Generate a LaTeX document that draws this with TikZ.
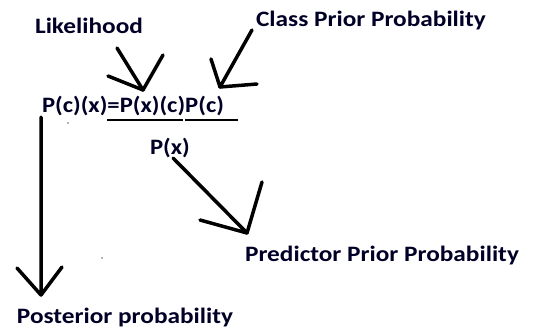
\documentclass[tikz,border=0pt]{standalone}
\usepackage{fontspec}
\setmainfont{Carlito}
\begin{document}
\begin{tikzpicture}[x=1pt,y=-1pt,
  lbl/.style={font=\bfseries\fontsize{22}{25}\selectfont, inner sep=0pt, text=black!85!blue},
  stroke/.style={line width=3.5pt, line cap=round, line join=round},
  bar/.style={line width=2.2pt}]
\useasboundingbox (0,0) rectangle (538,333);
\node[lbl] (lik) at (89,26) {\scalebox{1.15}[1]{Likelihood}};
\node[lbl] (cls) at (371,21) {\scalebox{1.15}[1]{Class Prior Probability}};
\node[lbl] (eq) at (133,106) {\scalebox{1.12}[1]{P(c)(x)=P(x)(c)P(c)}};
\node[lbl] (px) at (170,148) {\scalebox{1.12}[1]{P(x)}};
\node[lbl] (post) at (125,318) {\scalebox{1.15}[1]{Posterior probability}};
\node[lbl] (pred) at (382,256) {\scalebox{1.15}[1]{Predictor Prior Probability}};
% fraction bar
\coordinate (b1) at (107,120); \coordinate (b2) at (183,120);
\coordinate (b3) at (185,120); \coordinate (b4) at (238,120);
\draw[bar] (b1) -- (b2);
\draw[bar] (b3) -- (b4);
% likelihood arrow
\coordinate (l0) at (117,48); \coordinate (lt) at (143,90);
\coordinate (lh1) at (163,55); \coordinate (lh2) at (108,76);
\draw[stroke] (l0) -- (lt) -- (lh1);
\draw[stroke] (lh2) -- (lt);
% class prior arrow
\coordinate (c0) at (252,30); \coordinate (ct) at (220,87);
\coordinate (ch1) at (211,59); \coordinate (ch2) at (257,84);
\draw[stroke] (c0) -- (ct) -- (ch1);
\draw[stroke] (ct) -- (ch2);
% posterior arrow
\coordinate (p0) at (41,117); \coordinate (pt) at (41,295);
\coordinate (ph1) at (17,268); \coordinate (ph2) at (62,267);
\draw[stroke] (p0) -- (pt) -- (ph1);
\draw[stroke] (pt) -- (ph2);
% predictor arrow
\coordinate (r0) at (173,158); \coordinate (rt) at (247,233);
\coordinate (rh1) at (200,220); \coordinate (rh2) at (262,182);
\draw[stroke] (r0) -- (rt) -- (rh1);
\draw[stroke] (rt) -- (rh2);
% specks
\fill[black!60] (68,123) circle (0.8);
\fill[black!60] (102,258) circle (0.8);
\end{tikzpicture}
\end{document}
